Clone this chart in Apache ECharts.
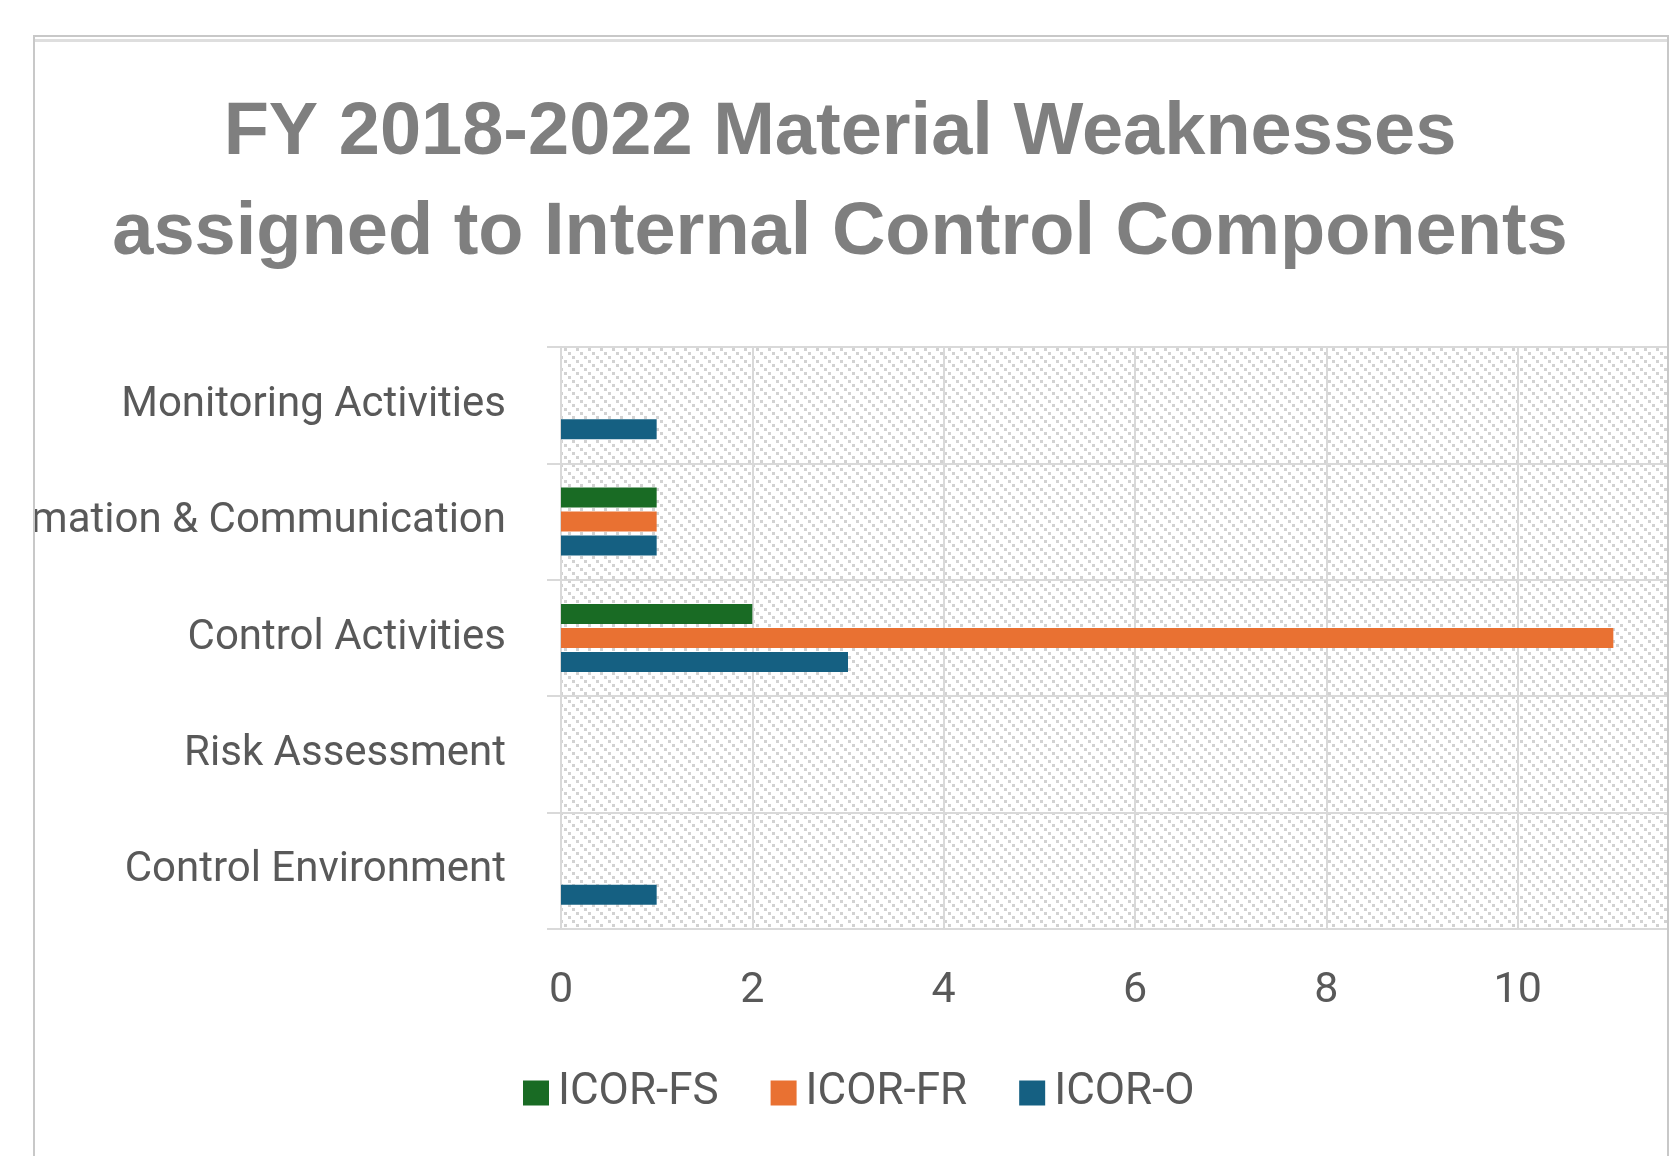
<!DOCTYPE html>
<html><head><meta charset="utf-8">
<script src="https://cdn.jsdelivr.net/npm/echarts@6/dist/echarts.min.js"></script>
<style>
html,body{margin:0;padding:0;background:#fff;overflow:hidden;width:1674px;height:1156px;}
#frame{position:absolute;left:33px;top:35px;width:1632px;height:1200px;border:2px solid #c8c8c8;border-bottom:none;overflow:hidden;background:#fff;}
#innerTop{position:absolute;left:0;top:2px;width:100%;height:3px;background:#dedede;z-index:2;}
#chart{position:absolute;left:-35px;top:-37px;width:1720px;height:1156px;}
</style></head>
<body>
<div id="frame"><div id="chart"></div><div id="innerTop"></div></div>
<script>
const categories = ['Control Environment', 'Risk Assessment', 'Control Activities', 'Information & Communication', 'Monitoring Activities'];
const seriesNames = ['ICOR-FS', 'ICOR-FR', 'ICOR-O'];
const icorFS = [0, 0, 2, 1, 0];
const icorFR = [0, 0, 11, 1, 0];
const icorO = [1, 0, 3, 1, 1];
const seriesColors = ['#196B24', '#E97132', '#156082'];
const titleLines = ['FY 2018-2022 Material Weaknesses', 'assigned to Internal Control Components'];

function makeHatch() {
  const s = 12;
  const c = document.createElement('canvas');
  c.width = s; c.height = s;
  const g = c.getContext('2d');
  g.fillStyle = '#ffffff'; g.fillRect(0, 0, s, s);
  g.fillStyle = '#d2d2d2';
  for (const k of [0, 4, 8]) {
    g.fillRect(k, k, 3, 3);
  }
  return c;
}

const chart = echarts.init(document.getElementById('chart'), null, {renderer: 'canvas'});
const gridLine = {color: '#d9d9d9', width: 2};
const seriesData = [icorFS, icorFR, icorO];
chart.setOption({
  animation: false,
  backgroundColor: '#ffffff',
  title: {
    text: titleLines.join('\n'),
    left: 840, top: 84, textAlign: 'center', padding: 0,
    textStyle: {fontSize: 74, fontWeight: 'bold', fontFamily: 'Liberation Sans', color: '#7f7f7f', lineHeight: 100}
  },
  legend: {
    data: seriesNames, left: 523, top: 1071, padding: 0,
    icon: 'rect', itemWidth: 26, itemHeight: 25, itemGap: 52,
    textStyle: {fontSize: 44, fontFamily: 'Roboto', color: '#595959', padding: [0, 0, 0, 4]}
  },
  grid: {
    left: 561, top: 347, right: 11, bottom: 227,
    containLabel: false, outerBoundsMode: 'none',
    show: true, borderWidth: 0,
    backgroundColor: {image: makeHatch(), repeat: 'repeat'}
  },
  xAxis: {
    type: 'value', min: 0, max: 12, interval: 2,
    axisLine: {show: true, lineStyle: gridLine},
    axisTick: {show: false},
    splitLine: {show: true, lineStyle: gridLine},
    axisLabel: {fontSize: 43, fontFamily: 'Roboto', color: '#595959', margin: 41}
  },
  yAxis: {
    type: 'category', data: categories,
    axisLine: {show: false},
    axisTick: {show: true, length: 14, lineStyle: gridLine},
    splitLine: {show: true, lineStyle: gridLine},
    axisLabel: {fontSize: 42, fontFamily: 'Roboto', color: '#595959', margin: 55}
  },
  series: seriesNames.map((n, i) => ({
    name: n, type: 'bar', data: seriesData[i],
    barWidth: 20, barGap: '20%',
    itemStyle: {color: seriesColors[i]}
  }))
});
</script>
</body></html>
